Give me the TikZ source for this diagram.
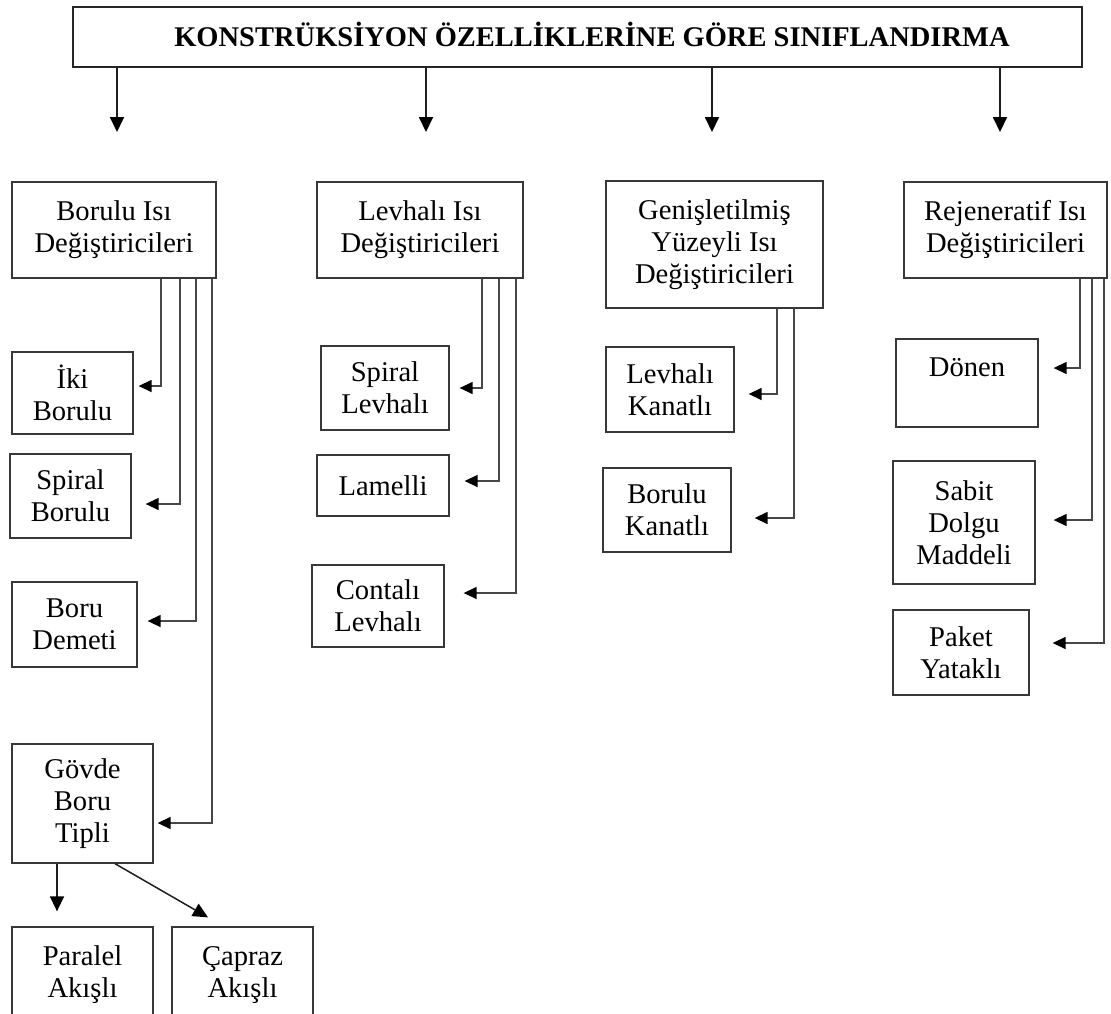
\documentclass[tikz,border=0pt]{standalone}
\usepackage{fontspec}
\setmainfont{Liberation Serif}
\usetikzlibrary{arrows.meta}
\begin{document}
\begin{tikzpicture}[x=1pt,y=-1pt,
  box/.style={draw=black!78, line width=1.3pt, align=center, inner sep=0pt,
    font=\fontsize{28.6}{32}\selectfont},
  conn/.style={draw=black!72, line width=1.4pt, -{Triangle[length=13pt,width=12pt,color=black]}},
  toparr/.style={draw=black!88, line width=1.8pt, -{Triangle[length=15pt,width=14pt,color=black]}}]
\useasboundingbox[fill=white] (0,0) rectangle (1111,1013);

% title box
\node[draw=black!85, line width=2.2pt, minimum width=1009pt, minimum height=60pt,
  inner sep=0pt, text height=20pt, text depth=2pt,
  font=\bfseries\fontsize{28.5}{32}\selectfont] (top) at (577.5,37)
  {\hspace*{29pt}KONSTRÜKSİYON ÖZELLİKLERİNE GÖRE SINIFLANDIRMA};

\coordinate (t0) at (117,132);
\coordinate (t1) at (426,132);
\coordinate (t2) at (712,132);
\coordinate (t3) at (1000,132);
\foreach \t in {t0,t1,t2,t3} \draw[toparr] (top.south -| \t) -- (\t);

% column 1
\node[box, minimum width=204pt, minimum height=96pt] (b0) at (114,230) {Borulu Isı\\Değiştiricileri};
\node[box, minimum width=121pt, minimum height=82pt] (iki) at (72.5,393) {İki\\Borulu};
\node[box, minimum width=121pt, minimum height=84pt] (spb) at (70.5,496) {Spiral\\Borulu};
\node[box, minimum width=125pt, minimum height=85pt] (demeti) at (74.5,624.5) {Boru\\Demeti};
\node[box, minimum width=141pt, minimum height=119pt] (govde) at (82.5,803.5) {Gövde\\Boru\\Tipli};
\node[box, minimum width=141pt, minimum height=96pt] (paralel) at (82.5,975) {Paralel\\Akışlı};
\node[box, minimum width=141pt, minimum height=96pt] (capraz) at (242.5,975) {Çapraz\\Akışlı};

\draw[conn] ([xshift=47pt]b0.south) |- ([xshift=5pt,yshift=7pt]iki.east);
\draw[conn] ([xshift=66pt]b0.south) |- ([xshift=14pt,yshift=-8pt]spb.east);
\draw[conn] ([xshift=82pt]b0.south) |- ([xshift=10pt,yshift=3.5pt]demeti.east);
\draw[conn] ([xshift=98pt]b0.south) |- ([xshift=4pt,yshift=-19.5pt]govde.east);
\draw[toparr, line width=1.5pt] ([xshift=-25.5pt]govde.south) -- ([xshift=-25.5pt,yshift=15pt]paralel.north);
\draw[toparr, line width=1.5pt] ([xshift=32.5pt]govde.south) -- ([xshift=-34.5pt,yshift=9pt]capraz.north);

% column 2
\node[box, minimum width=206pt, minimum height=96pt] (b1) at (420,230) {Levhalı Isı\\Değiştiricileri};
\node[box, minimum width=128pt, minimum height=84pt] (spl) at (385,388) {Spiral\\Levhalı};
\node[box, minimum width=132pt, minimum height=61pt] (lamelli) at (383,485.5) {Lamelli};
\node[box, minimum width=132pt, minimum height=82pt] (contali) at (378,606) {Contalı\\Levhalı};

\draw[conn] ([xshift=62pt]b1.south) |- ([xshift=10pt]spl.east);
\draw[conn] ([xshift=79pt]b1.south) |- ([xshift=15pt,yshift=4.5pt]lamelli.east);
\draw[conn] ([xshift=96pt]b1.south) |- ([xshift=19pt,yshift=13pt]contali.east);

% column 3
\node[box, minimum width=217pt, minimum height=127pt] (b2) at (714.5,244.5) {Genişletilmiş\\Yüzeyli Isı\\Değiştiricileri};
\node[box, minimum width=128pt, minimum height=85pt] (lk) at (670,389.5) {Levhalı\\Kanatlı};
\node[box, minimum width=128pt, minimum height=84pt] (bk) at (667,510) {Borulu\\Kanatlı};

\draw[conn] ([xshift=62.5pt]b2.south) |- ([xshift=14pt,yshift=-4.5pt]lk.east);
\draw[conn] ([xshift=79.5pt]b2.south) |- ([xshift=23pt,yshift=-8pt]bk.east);

% column 4
\node[box, minimum width=203pt, minimum height=96pt] (b3) at (1005.5,230) {Rejeneratif Isı\\Değiştiricileri};
\node[box, minimum width=142pt, minimum height=88pt] (donen) at (967,383) {Dönen\\\mbox{}};
\node[box, minimum width=142pt, minimum height=123pt] (sabit) at (964,522.5) {Sabit\\Dolgu\\Maddeli};
\node[box, minimum width=136pt, minimum height=85pt] (paket) at (961,652.5) {Paket\\Yataklı};

\draw[conn] ([xshift=74.5pt]b3.south) |- ([xshift=15pt,yshift=15pt]donen.east);
\draw[conn] ([xshift=86.5pt]b3.south) |- ([xshift=18pt,yshift=2.5pt]sabit.east);
\draw[conn] ([xshift=98.5pt]b3.south) |- ([xshift=23pt,yshift=9.5pt]paket.east);
\end{tikzpicture}
\end{document}
